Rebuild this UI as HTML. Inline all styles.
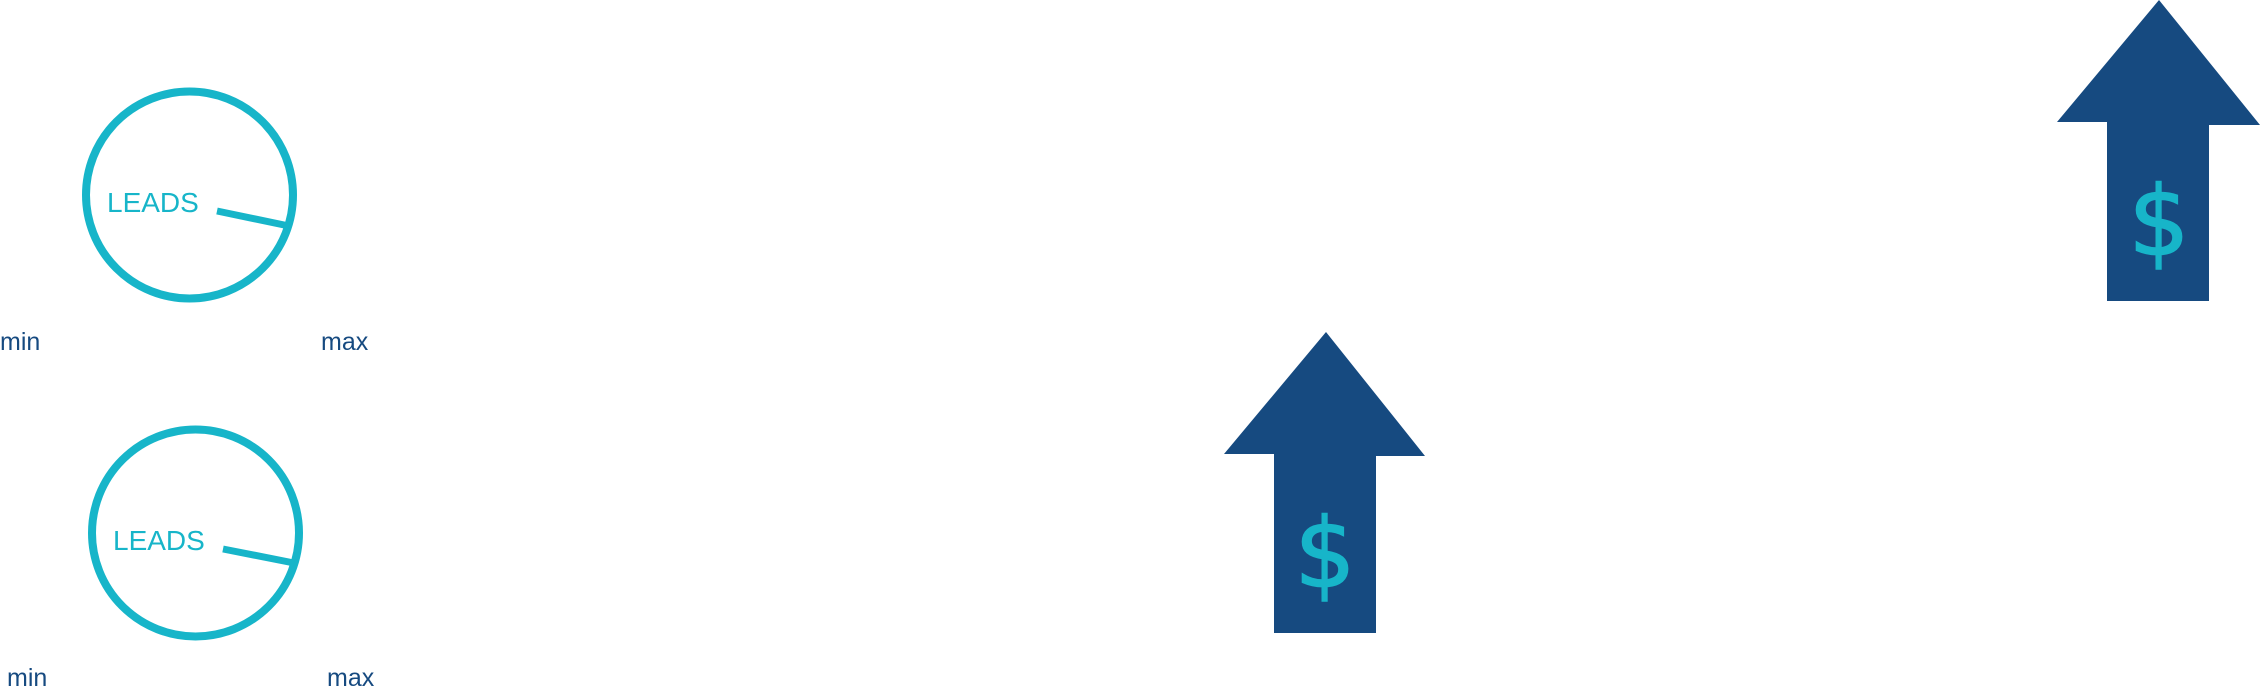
<!DOCTYPE html>
<html><head><meta charset="utf-8"><style>
html,body{margin:0;padding:0;background:#fff;}
svg{display:block;}
</style></head><body>
<svg width="2260" height="699" viewBox="0 0 2260 699" xmlns="http://www.w3.org/2000/svg">
<g fill="none" stroke="#17b5c9" stroke-width="8">
<circle cx="189.5" cy="195" r="103.5"/>
<circle cx="195.5" cy="533" r="103.5"/>
</g>
<g stroke="#17b5c9" stroke-width="7">
<line x1="217" y1="211" x2="289" y2="226"/>
<line x1="223" y1="549" x2="294" y2="563"/>
</g>
<g font-family="Liberation Sans, sans-serif" font-size="28" fill="#17b5c9">
<text x="107" y="212">LEADS</text>
<text x="113" y="550">LEADS</text>
</g>
<g font-family="Liberation Sans, sans-serif" font-size="25" fill="#164a80">
<text x="0" y="350">min</text>
<text x="321" y="350">max</text>
<text x="7" y="686">min</text>
<text x="327" y="686">max</text>
</g>
<g fill="#164a80">
<polygon points="1326,332 1425,456 1376,456 1376,633 1274,633 1274,454 1224,454"/>
<polygon points="2159,0 2260,125 2209,125 2209,301 2107,301 2107,122 2057,122"/>
</g>
<g font-family="DejaVu Sans, sans-serif" font-size="96" fill="#17b5c9" stroke="#17b5c9" stroke-width="1.5" text-anchor="middle">
<text x="1325" y="587">$</text>
<text x="2159" y="255">$</text>
</g>
</svg>
</body></html>
